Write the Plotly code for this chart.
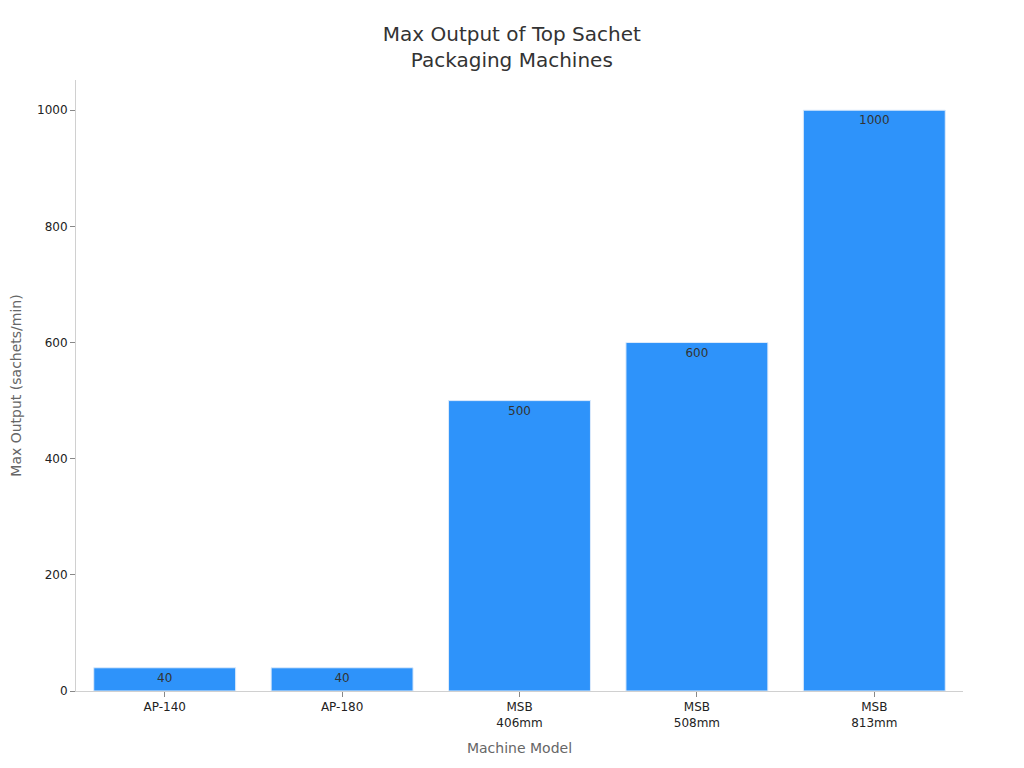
import plotly.graph_objects as go

# data
machines = ["AP-140", "AP-180", "MSB<br>406mm", "MSB<br>508mm", "MSB<br>813mm"]
max_output = [40, 40, 500, 600, 1000]
bar_labels = ["40", "40", "500", "600", "1000"]

fig = go.Figure()

fig.add_trace(go.Bar(
    x=machines,
    y=max_output,
    text=bar_labels,
    textposition="inside",
    insidetextanchor="end",
    textangle=0,
    textfont=dict(family="DejaVu Sans", size=12, color="#333333"),
    marker=dict(color="#2E93FA", line=dict(color="#DDEBFB", width=1)),
    hoverinfo="x+y",
))

fig.update_layout(
    width=1024,
    height=768,
    paper_bgcolor="white",
    plot_bgcolor="white",
    font=dict(family="DejaVu Sans", size=12, color="#222222"),
    title=dict(
        text="Max Output of Top Sachet<br>Packaging Machines",
        x=0.492,
        xanchor="center",
        y=0.957,
        yanchor="middle",
        font=dict(size=20, color="#333333"),
    ),
    margin=dict(l=68, r=69, t=72, b=85),
    bargap=0.2,
    showlegend=False,
    uniformtext=dict(minsize=12, mode="show"),
)

fig.update_xaxes(
    title=dict(text="Machine Model", font=dict(size=14, color="#666666"), standoff=14),
    automargin=False,
    showline=True,
    linecolor="#D0D0D0",
    linewidth=1,
    ticks="outside",
    tickcolor="#888888",
    ticklen=5,
    showgrid=False,
    tickfont=dict(size=12, color="#222222"),
)

fig.update_yaxes(
    title=dict(text="Max Output (sachets/min)", font=dict(size=14, color="#666666"), standoff=14),
    automargin=False,
    range=[0, 1052],
    tickvals=[0, 200, 400, 600, 800, 1000],
    showline=True,
    linecolor="#D0D0D0",
    linewidth=1,
    ticks="outside",
    tickcolor="#888888",
    ticklen=5,
    showgrid=False,
    zeroline=False,
    tickfont=dict(size=12, color="#222222"),
)

fig.write_html("out.html")
